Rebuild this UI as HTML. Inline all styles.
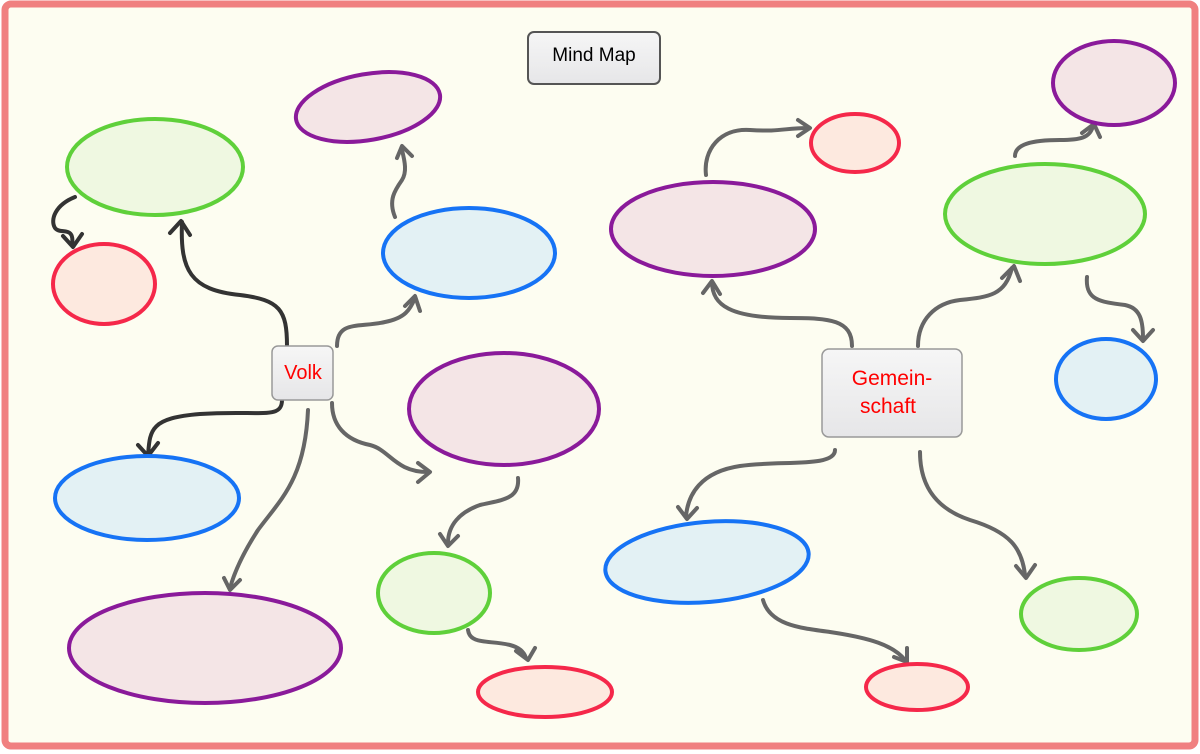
<!DOCTYPE html>
<html><head><style>
html,body{margin:0;padding:0;background:#fff}
svg{display:block}
</style></head><body>
<svg width="1200" height="754" viewBox="0 0 1200 754" xmlns="http://www.w3.org/2000/svg">
<defs>
<marker id="a" viewBox="0 0 12 12" refX="6" refY="6" markerWidth="5" markerHeight="5" orient="auto" markerUnits="userSpaceOnUse" overflow="visible">
</marker>
<linearGradient id="bx" x1="0" y1="0" x2="0" y2="1"><stop offset="0" stop-color="#f6f6f6"/><stop offset="1" stop-color="#e6e6e8"/></linearGradient>
</defs>
<rect x="5" y="4" width="1190" height="742" rx="6" fill="#fdfdf1" stroke="#f08080" stroke-width="7"/>

<g fill="none" stroke-width="4" stroke-linecap="round" stroke-linejoin="round">
<!-- dark connectors -->
<g stroke="#333">
<path d="M287 346 C287 310 280 300 240 295 C190 290 180 270 182 222"/>
<path d="M170 233 L181 221 L190 235"/>
<path d="M282 400 C282 420 260 410 200 414 C150 418 150 430 148 455"/>
<path d="M138 445 L148 456 L158 443"/>
<path d="M75 197 C55 205 50 220 55 228 C60 235 75 225 72 245"/>
<path d="M63 236 L73 247 L82 234"/>
</g>
<g stroke="#666">
<path d="M337 346 C337 320 360 328 385 322 C405 318 410 310 415 298"/>
<path d="M405 306 L415 296 L420 311"/>
<path d="M395 217 C388 200 395 190 402 180 C407 172 405 162 402 150"/>
<path d="M397 158 L402 146 L412 156"/>
<path d="M332 403 C332 425 345 440 370 445 C390 450 395 472 428 472"/>
<path d="M418 463 L430 472 L418 482"/>
<path d="M308 410 C305 480 280 500 258 530 C245 550 235 570 230 588"/>
<path d="M224 578 L230 590 L240 580"/>
<path d="M518 478 C520 500 500 500 480 505 C460 512 448 525 448 543"/>
<path d="M440 534 L448 546 L458 536"/>
<path d="M468 630 C470 645 490 640 510 645 C522 648 525 655 526 658"/>
<path d="M516 651 L528 660 L535 648"/>
<path d="M706 175 C703 150 720 128 750 130 C780 132 785 128 808 128"/>
<path d="M798 120 L810 128 L798 136"/>
<path d="M852 346 C852 320 830 318 790 318 C730 318 712 305 712 282"/>
<path d="M703 293 L712 281 L720 294"/>
<path d="M918 346 C918 320 935 303 960 300 C990 297 1005 295 1012 268"/>
<path d="M1002 278 L1014 266 L1020 281"/>
<path d="M1015 156 C1015 145 1030 140 1060 140 C1080 140 1090 138 1093 126"/>
<path d="M1082 133 L1094 124 L1100 137"/>
<path d="M1087 277 C1085 300 1100 302 1125 305 C1140 308 1143 320 1143 338"/>
<path d="M1133 330 L1143 341 L1153 330"/>
<path d="M835 450 C835 468 780 460 740 466 C700 472 688 495 686 516"/>
<path d="M678 507 L687 519 L697 508"/>
<path d="M920 452 C920 490 940 510 970 520 C1010 532 1022 548 1025 575"/>
<path d="M1016 566 L1026 578 L1035 565"/>
<path d="M763 600 C770 625 800 628 830 632 C870 638 893 645 905 660"/>
<path d="M894 657 L907 662 L907 648"/>
</g>
</g>

<g stroke-width="4">
<ellipse cx="155" cy="167" rx="88" ry="48" fill="#eff8e1" stroke="#5fd03a"/>
<ellipse cx="104" cy="284" rx="51" ry="40" fill="#fde9df" stroke="#f5284a"/>
<ellipse cx="368" cy="107" rx="73" ry="33" transform="rotate(-10 368 107)" fill="#f4e5e6" stroke="#8a1a9a"/>
<ellipse cx="469" cy="253" rx="86" ry="45" fill="#e3f1f4" stroke="#1673f5"/>
<ellipse cx="504" cy="409" rx="95" ry="56" fill="#f4e5e6" stroke="#8a1a9a"/>
<ellipse cx="147" cy="498" rx="92" ry="42" fill="#e3f1f4" stroke="#1673f5"/>
<ellipse cx="205" cy="648" rx="136" ry="55" fill="#f4e5e6" stroke="#8a1a9a"/>
<ellipse cx="434" cy="593" rx="56" ry="40" fill="#eff8e1" stroke="#5fd03a"/>
<ellipse cx="545" cy="692" rx="67" ry="25" fill="#fde9df" stroke="#f5284a"/>
<ellipse cx="713" cy="229" rx="102" ry="47" fill="#f4e5e6" stroke="#8a1a9a"/>
<ellipse cx="855" cy="143" rx="44" ry="29" fill="#fde9df" stroke="#f5284a"/>
<ellipse cx="1114" cy="83" rx="61" ry="42" fill="#f4e5e6" stroke="#8a1a9a"/>
<ellipse cx="1045" cy="214" rx="100" ry="50" fill="#eff8e1" stroke="#5fd03a"/>
<ellipse cx="1106" cy="379" rx="50" ry="40" fill="#e3f1f4" stroke="#1673f5"/>
<ellipse cx="707" cy="562" rx="102" ry="40" transform="rotate(-5 707 562)" fill="#e3f1f4" stroke="#1673f5"/>
<ellipse cx="1079" cy="614" rx="58" ry="36" fill="#eff8e1" stroke="#5fd03a"/>
<ellipse cx="917" cy="687" rx="51" ry="23" fill="#fde9df" stroke="#f5284a"/>
</g>

<g font-family="'Liberation Sans', sans-serif">
<rect x="528" y="32" width="132" height="52" rx="6" fill="url(#bx)" stroke="#555" stroke-width="2"/>
<text x="594" y="61" font-size="19" text-anchor="middle" fill="#000">Mind Map</text>
<rect x="272" y="346" width="61" height="54" rx="6" fill="url(#bx)" stroke="#999" stroke-width="1.5"/>
<text x="303" y="379" font-size="20" text-anchor="middle" fill="#f00">Volk</text>
<rect x="822" y="349" width="140" height="88" rx="7" fill="url(#bx)" stroke="#999" stroke-width="1.5"/>
<text x="892" y="385" font-size="21" text-anchor="middle" fill="#f00">Gemein-</text>
<text x="888" y="413" font-size="21" text-anchor="middle" fill="#f00">schaft</text>
</g>
</svg>
</body></html>
